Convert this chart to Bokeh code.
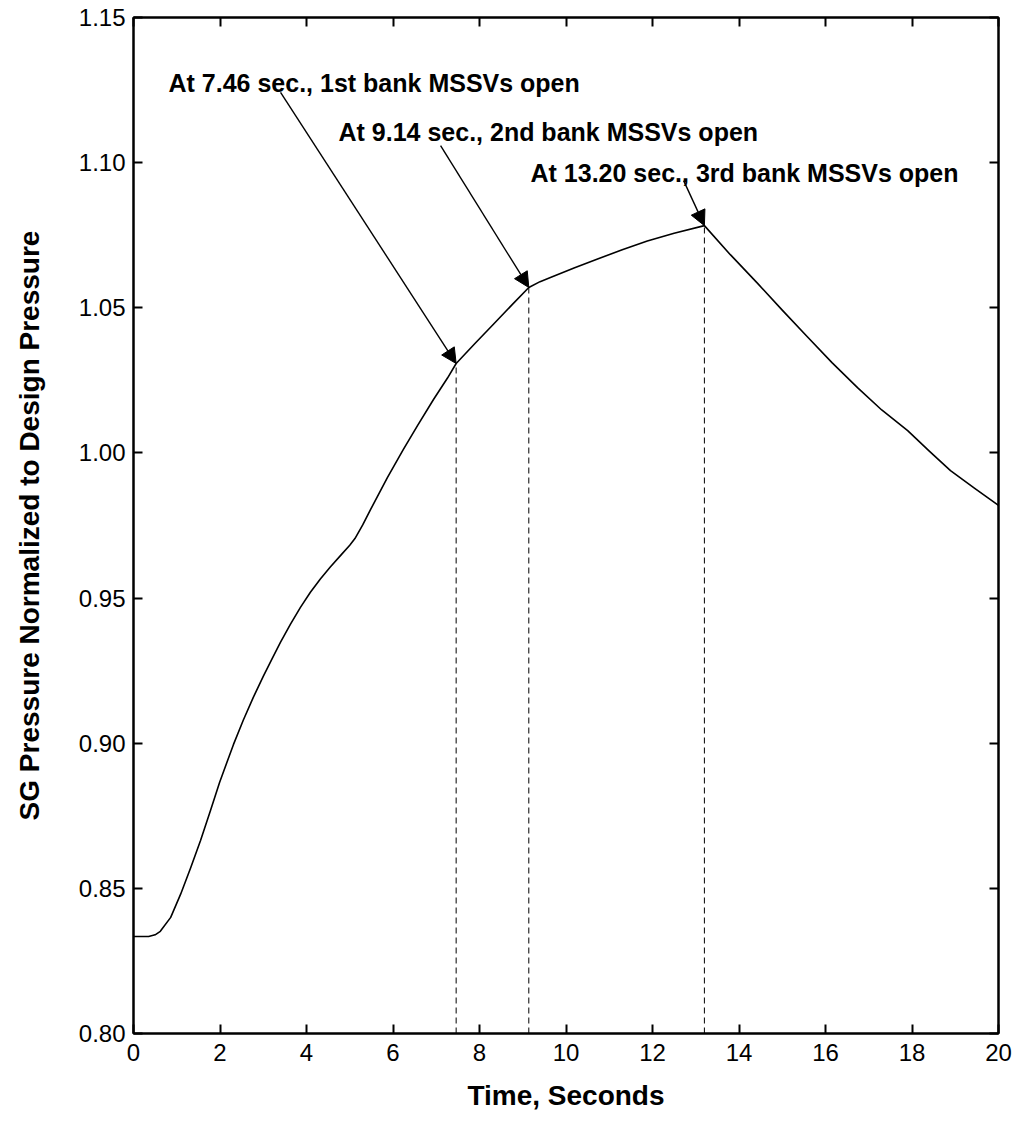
from bokeh.plotting import figure
from bokeh.models import (FixedTicker, LinearAxis, Range1d, Label, Arrow,
                          NormalHead, PrintfTickFormatter, CustomLabelingPolicy)
from bokeh.embed import file_html
from bokeh.resources import INLINE

# ---- data ----
time_s = [0.0, 0.35, 0.5, 0.62, 0.86, 1.09, 1.32, 1.55, 1.78, 1.99, 2.31,
          2.54, 2.77, 3.0, 3.2, 3.4, 3.63, 3.86, 4.09, 4.32, 4.55, 4.79,
          5.0, 5.12, 5.3, 5.48, 5.87, 6.24, 6.57, 6.94, 7.26, 7.46, 7.9,
          8.3, 8.75, 9.14, 9.4, 9.64, 10.2, 10.73, 11.3, 11.88, 12.5, 13.2,
          13.8, 14.43, 15.0, 15.58, 16.15, 16.74, 17.3, 17.9, 18.4, 18.89,
          19.45, 20.0]
pressure = [0.8334, 0.8334, 0.8340, 0.8352, 0.8400, 0.8480, 0.8570, 0.8665,
            0.8768, 0.8865, 0.8995, 0.9080, 0.9158, 0.9230, 0.9290, 0.9348,
            0.9410, 0.9468, 0.9520, 0.9566, 0.9607, 0.9647, 0.9682, 0.9705,
            0.9752, 0.9805, 0.9915, 1.0012, 1.0095, 1.0185, 1.0258, 1.0308,
            1.0378, 1.0440, 1.0510, 1.0570, 1.0590, 1.0604, 1.0638, 1.0668,
            1.0700, 1.0730, 1.0757, 1.0783, 1.0683, 1.0584, 1.0492, 1.0400,
            1.0311, 1.0225, 1.0148, 1.0077, 1.0006, 0.9939, 0.9878, 0.9819]

event_time = [7.46, 9.14, 13.20]
event_pressure = [1.0308, 1.057, 1.0783]
event_labels = ["At 7.46 sec., 1st bank MSSVs open",
                "At 9.14 sec., 2nd bank MSSVs open",
                "At 13.20 sec., 3rd bank MSSVs open"]

x_ticks = [0, 2, 4, 6, 8, 10, 12, 14, 16, 18, 20]
y_ticks = [0.80, 0.85, 0.90, 0.95, 1.00, 1.05, 1.10, 1.15]

# annotation layout (label anchor and arrow tail, data coords)
label_pos = [(0.81, 1.1276), (4.74, 1.1104), (9.18, 1.0966)]
arrow_tail = [(3.40, 1.1242), (7.10, 1.1059), (12.72, 1.0938)]

FONT = "Liberation Sans"

p = figure(width=1016, height=1129, x_range=Range1d(0, 20),
           y_range=Range1d(0.80, 1.15), output_backend="svg",
           toolbar_location=None, min_border_left=133, min_border_right=18,
           min_border_top=17, min_border_bottom=96)
p.background_fill_color = "white"
p.border_fill_color = "white"
p.outline_line_color = "black"
p.outline_line_width = 2
p.xgrid.visible = False
p.ygrid.visible = False

no_labels = CustomLabelingPolicy(code="return new Set()")


def style_axis(ax, ticks, show_labels):
    ax.ticker = FixedTicker(ticks=ticks)
    ax.major_tick_in = 9
    ax.major_tick_out = 0
    ax.major_tick_line_width = 2
    ax.major_tick_line_color = "black"
    ax.minor_tick_line_color = None
    ax.axis_line_width = 2
    ax.axis_line_color = "black"
    ax.major_label_text_font = FONT
    ax.major_label_text_color = "black"
    if show_labels:
        ax.major_label_text_font_size = "24px"
    else:
        ax.major_label_text_font_size = "0px"
        ax.major_label_policy = no_labels
        ax.major_label_standoff = 0


xa = p.xaxis[0]
style_axis(xa, x_ticks, True)
xa.major_label_standoff = 10
xa.axis_label = "Time, Seconds"
xa.axis_label_text_font = FONT
xa.axis_label_text_font_style = "bold"
xa.axis_label_text_font_size = "28px"
xa.axis_label_text_color = "black"
xa.axis_label_standoff = 16

ya = p.yaxis[0]
style_axis(ya, y_ticks, True)
ya.formatter = PrintfTickFormatter(format="%.2f")
ya.major_label_standoff = 8
ya.axis_label = "SG Pressure Normalized to Design Pressure"
ya.axis_label_text_font = FONT
ya.axis_label_text_font_style = "bold"
ya.axis_label_text_font_size = "28px"
ya.axis_label_text_color = "black"
ya.axis_label_standoff = 31

top = LinearAxis()
style_axis(top, x_ticks, False)
p.add_layout(top, "above")
right = LinearAxis()
style_axis(right, y_ticks, False)
p.add_layout(right, "right")

# dashed markers at event times
p.segment(x0=event_time, y0=[0.80] * 3, x1=event_time, y1=event_pressure,
          line_color="black", line_width=1, line_dash="6 4")

# pressure curve
p.line(time_s, pressure, line_color="black", line_width=1.6,
       line_join="round")

# annotations
for (lx, ly), (ax_, ay_), ex, ey, txt in zip(label_pos, arrow_tail, event_time,
                                             event_pressure, event_labels):
    p.add_layout(Label(x=lx, y=ly, text=txt, text_font=FONT,
                       text_font_style="bold", text_font_size="25px",
                       text_color="black", text_baseline="alphabetic",
                       text_align="left"))
    p.add_layout(Arrow(x_start=ax_, y_start=ay_, x_end=ex, y_end=ey,
                       line_color="black", line_width=1.4,
                       end=NormalHead(size=15, fill_color="black",
                                      line_color="black", line_width=1)))

open("out.html", "w").write(file_html(p, INLINE))
